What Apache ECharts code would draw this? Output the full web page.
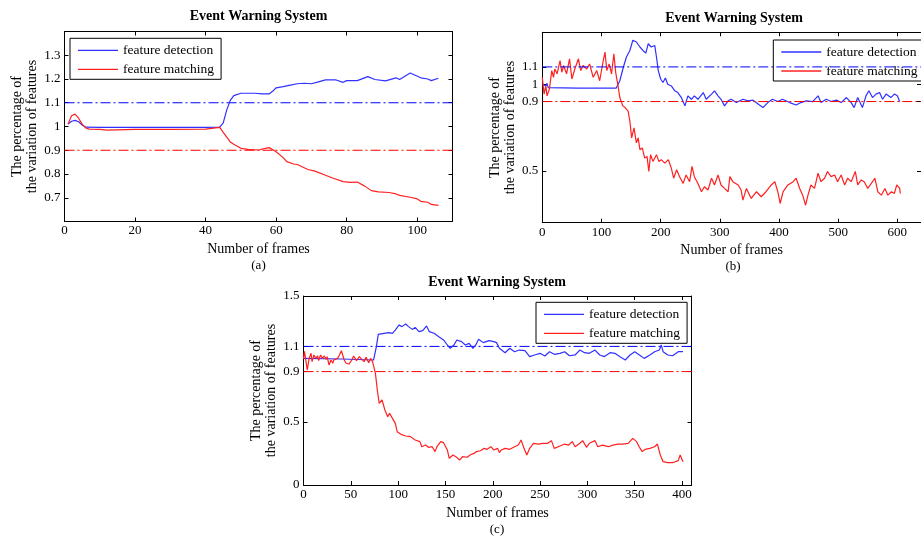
<!DOCTYPE html>
<html>
<head>
<meta charset="utf-8">
<script src="https://cdn.jsdelivr.net/npm/echarts@6/dist/echarts.min.js"></script>
<style>
  html, body { margin: 0; padding: 0; background: #fff; }
  #chart { width: 921px; height: 537px; }
</style>
</head>
<body>
<div id="chart"></div>
<script>
// ---- data ----
var seriesNames = ['feature detection', 'feature matching'];

// (a)
var aDetectFrames = [1, 2, 3, 4, 5, 6, 10, 20, 30, 40, 44, 45, 46, 47, 48, 50, 52, 54, 56, 58, 59, 60, 62, 64, 66, 68, 70, 72, 74, 77, 79, 80, 83, 86, 88, 91, 94, 95, 98, 101, 103, 104, 106];
var aDetect = [1.01, 1.022, 1.026, 1.02, 1.006, 0.997, 0.996, 0.996, 0.996, 0.996, 0.997, 1.015, 1.07, 1.11, 1.13, 1.14, 1.14, 1.14, 1.137, 1.137, 1.148, 1.163, 1.168, 1.174, 1.18, 1.182, 1.18, 1.188, 1.196, 1.196, 1.186, 1.193, 1.193, 1.21, 1.198, 1.192, 1.205, 1.198, 1.225, 1.205, 1.2, 1.193, 1.203];
var aMatchFrames = [1, 2, 3, 4, 5, 6, 7, 10, 12, 20, 30, 40, 44, 45, 46, 47, 48, 50, 52, 55, 57, 58, 60, 62, 63, 65, 66, 69, 71, 74, 76, 79, 81, 83, 85, 87, 89, 92, 94, 95, 98, 100, 101, 103, 104, 106];
var aMatch = [1.01, 1.045, 1.052, 1.035, 1.01, 0.994, 0.989, 0.988, 0.985, 0.988, 0.988, 0.989, 0.996, 0.975, 0.955, 0.935, 0.925, 0.908, 0.904, 0.901, 0.908, 0.911, 0.894, 0.869, 0.852, 0.842, 0.84, 0.819, 0.812, 0.795, 0.783, 0.768, 0.765, 0.766, 0.75, 0.73, 0.725, 0.722, 0.716, 0.71, 0.702, 0.695, 0.685, 0.681, 0.672, 0.668];
var aXTicks = [0, 20, 40, 60, 80, 100];
var aYTicks = [0.6, 0.7, 0.8, 0.9, 1, 1.1, 1.2, 1.3, 1.4];
var aYLabels = [0.7, 0.8, 0.9, 1, 1.1, 1.2, 1.3];

// (b)
var bDetectFrames = [0, 3, 6, 8, 10, 12, 60, 125, 131, 137, 142, 148, 153, 159, 165, 170, 175, 179, 184, 190, 193, 196, 200, 204, 208, 212, 218, 224, 229, 235, 241, 246, 252, 257, 263, 272, 277, 286, 291, 297, 302, 308, 314, 319, 328, 339, 348, 356, 367, 373, 381, 389, 398, 406, 418, 429, 437, 446, 457, 466, 471, 480, 488, 497, 505, 514, 522, 527, 533, 541, 547, 552, 558, 564, 570, 575, 581, 589, 595, 600, 604];
var bDetect = [1.0, 1.01, 0.99, 1.005, 0.98, 0.978, 0.978, 0.978, 1.02, 1.098, 1.156, 1.195, 1.254, 1.244, 1.215, 1.195, 1.18, 1.234, 1.215, 1.224, 1.156, 1.079, 1.03, 1.01, 1.036, 1.0, 0.99, 0.962, 0.952, 0.923, 0.875, 0.933, 0.913, 0.933, 0.913, 0.952, 0.913, 0.943, 0.962, 0.933, 0.913, 0.875, 0.904, 0.913, 0.894, 0.913, 0.904, 0.908, 0.88, 0.865, 0.894, 0.913, 0.9, 0.913, 0.894, 0.88, 0.894, 0.904, 0.9, 0.933, 0.894, 0.913, 0.9, 0.908, 0.894, 0.923, 0.894, 0.865, 0.923, 0.865, 0.933, 0.962, 0.923, 0.943, 0.952, 0.913, 0.943, 0.923, 0.943, 0.933, 0.9];
var bMatchFrames = [0, 3, 6, 8, 12, 16, 19, 21, 25, 30, 33, 36, 41, 46, 50, 55, 61, 65, 69, 75, 80, 86, 92, 97, 103, 106, 109, 113, 117, 121, 124, 128, 131, 136, 140, 145, 148, 151, 155, 159, 162, 165, 169, 173, 177, 180, 183, 187, 193, 197, 201, 207, 213, 218, 222, 227, 232, 238, 243, 249, 253, 257, 263, 269, 274, 280, 286, 291, 297, 302, 308, 314, 317, 322, 331, 336, 339, 345, 353, 362, 370, 378, 387, 393, 398, 402, 407, 415, 424, 429, 435, 440, 445, 449, 454, 460, 466, 471, 477, 482, 488, 494, 499, 505, 511, 516, 522, 529, 533, 539, 544, 550, 556, 562, 567, 573, 579, 584, 590, 595, 599, 604, 605];
var bMatch = [1.04, 0.943, 0.991, 0.933, 0.972, 1.079, 1.04, 1.088, 1.06, 1.137, 1.069, 1.108, 1.06, 1.147, 1.03, 1.088, 1.147, 1.079, 1.108, 1.088, 1.117, 1.04, 1.079, 1.02, 1.137, 1.186, 1.079, 1.117, 1.06, 1.176, 1.069, 0.991, 0.923, 0.875, 0.865, 0.845, 0.787, 0.69, 0.748, 0.661, 0.69, 0.622, 0.632, 0.573, 0.583, 0.496, 0.593, 0.554, 0.593, 0.554, 0.564, 0.544, 0.564, 0.515, 0.457, 0.506, 0.466, 0.427, 0.476, 0.437, 0.525, 0.466, 0.427, 0.379, 0.408, 0.389, 0.457, 0.418, 0.476, 0.418, 0.398, 0.379, 0.466, 0.437, 0.418, 0.389, 0.33, 0.398, 0.34, 0.379, 0.35, 0.379, 0.418, 0.437, 0.379, 0.311, 0.379, 0.418, 0.437, 0.457, 0.398, 0.359, 0.301, 0.359, 0.418, 0.398, 0.486, 0.437, 0.457, 0.496, 0.466, 0.476, 0.437, 0.476, 0.418, 0.457, 0.437, 0.496, 0.418, 0.447, 0.437, 0.398, 0.427, 0.457, 0.379, 0.359, 0.398, 0.359, 0.379, 0.369, 0.418, 0.398, 0.369];
var bXTicks = [0, 100, 200, 300, 400, 500, 600];
var bYTicks = [0.5, 0.9, 1, 1.1];

// (c)
var cDetectFrames = [0, 40, 74, 77, 79, 85, 90, 94, 97, 101, 104, 108, 111, 115, 118, 122, 126, 130, 133, 138, 143, 148, 152, 155, 159, 162, 167, 171, 175, 179, 182, 185, 190, 196, 201, 204, 207, 209, 213, 218, 223, 228, 234, 239, 244, 250, 255, 260, 265, 271, 276, 281, 287, 292, 297, 302, 308, 313, 318, 324, 329, 334, 340, 345, 350, 355, 360, 366, 371, 376, 378, 380, 385, 390, 396, 401];
var cDetect = [1.005, 1.0, 0.992, 1.098, 1.196, 1.204, 1.209, 1.204, 1.23, 1.27, 1.257, 1.278, 1.257, 1.235, 1.251, 1.217, 1.225, 1.262, 1.217, 1.204, 1.177, 1.151, 1.111, 1.085, 1.111, 1.151, 1.138, 1.111, 1.124, 1.085, 1.111, 1.156, 1.13, 1.146, 1.138, 1.13, 1.085, 1.071, 1.05, 1.085, 1.058, 1.071, 1.066, 1.019, 1.032, 1.045, 1.024, 1.058, 1.037, 1.045, 1.058, 1.026, 1.032, 1.071, 1.05, 1.045, 1.071, 1.032, 1.019, 1.05, 1.045, 1.019, 0.992, 1.032, 1.058, 1.032, 1.005, 1.032, 1.058, 1.071, 1.111, 1.058, 1.032, 1.026, 1.058, 1.058];
var cMatchFrames = [0, 1, 4, 6, 8, 9, 11, 13, 15, 16, 18, 20, 22, 24, 25, 27, 29, 31, 32, 34, 36, 38, 40, 43, 45, 48, 51, 53, 56, 59, 61, 64, 66, 69, 71, 73, 74, 76, 78, 80, 82, 83, 86, 89, 91, 94, 97, 99, 103, 108, 113, 118, 123, 125, 129, 132, 136, 139, 141, 145, 148, 152, 154, 158, 161, 165, 168, 173, 176, 180, 183, 187, 191, 194, 198, 201, 205, 207, 209, 213, 218, 223, 227, 230, 233, 236, 239, 243, 248, 253, 258, 262, 265, 271, 276, 280, 284, 287, 292, 295, 299, 302, 308, 311, 316, 322, 327, 332, 337, 343, 348, 352, 355, 358, 361, 366, 371, 374, 377, 380, 385, 390, 396, 398, 401];
var cMatch = [1.0, 1.06, 0.913, 1.005, 1.045, 0.979, 1.032, 1.005, 1.024, 0.987, 1.032, 1.005, 1.024, 0.997, 1.019, 0.952, 0.992, 0.966, 0.992, 0.979, 1.005, 1.032, 1.066, 0.992, 0.966, 0.96, 0.992, 1.024, 0.987, 1.019, 1.005, 0.979, 1.013, 0.971, 1.005, 0.979, 0.992, 0.886, 0.754, 0.648, 0.635, 0.675, 0.595, 0.542, 0.569, 0.529, 0.489, 0.423, 0.402, 0.389, 0.384, 0.357, 0.344, 0.304, 0.317, 0.299, 0.304, 0.265, 0.304, 0.344, 0.336, 0.278, 0.212, 0.238, 0.225, 0.198, 0.225, 0.22, 0.238, 0.251, 0.265, 0.272, 0.291, 0.283, 0.304, 0.278, 0.291, 0.257, 0.278, 0.291, 0.283, 0.304, 0.317, 0.357, 0.291, 0.238, 0.291, 0.331, 0.325, 0.331, 0.331, 0.352, 0.291, 0.31, 0.325, 0.317, 0.344, 0.304, 0.331, 0.352, 0.299, 0.331, 0.352, 0.304, 0.317, 0.304, 0.317, 0.325, 0.325, 0.331, 0.37, 0.344, 0.299, 0.265, 0.283, 0.291, 0.304, 0.325, 0.238, 0.185, 0.177, 0.177, 0.193, 0.238, 0.185];
var cXTicks = [0, 50, 100, 150, 200, 250, 300, 350, 400];
var cYTicks = [0, 0.5, 0.9, 1.1, 1.5];

// thresholds (dash-dot lines)
var upperLimit = 1.1;
var lowerLimit = 0.9;

var FONT = '"Liberation Serif", "DejaVu Serif", serif';

function pairs(xs, ys) {
  return xs.map(function (x, i) { return [x, ys[i]]; });
}

var chart = echarts.init(document.getElementById('chart'));

// panel layout: grid box, axis ranges, tick values
var panels = [
  { left: 64.5, top: 31.5, width: 388, height: 190, xmax: 110, ymin: 0.6, ymax: 1.4,
    xTicks: aXTicks, yTicks: aYTicks, yLabels: aYLabels,
    detect: pairs(aDetectFrames, aDetect), match: pairs(aMatchFrames, aMatch),
    title: [258.5, 16], tag: '(a)', tagPos: [258.5, 266], legend: [70, 38.3], thZ: 2 },
  { left: 542.3, top: 32.3, width: 380, height: 190.4, xmax: 640, ymin: 0.2, ymax: 1.3,
    xTicks: bXTicks, yTicks: bYTicks, yLabels: bYTicks,
    detect: pairs(bDetectFrames, bDetect), match: pairs(bMatchFrames, bMatch),
    title: [734, 18], tag: '(b)', tagPos: [733, 267], legend: [773.3, 40], thZ: 10 },
  { left: 303.5, top: 296, width: 388, height: 189, xmax: 410, ymin: 0, ymax: 1.5,
    xTicks: cXTicks, yTicks: cYTicks, yLabels: cYTicks,
    detect: pairs(cDetectFrames, cDetect), match: pairs(cMatchFrames, cMatch),
    title: [497, 282], tag: '(c)', tagPos: [497, 530], legend: [536, 302.3], thZ: 2 }
];

var grids = [], xAxes = [], yAxes = [], series = [], titles = [], legends = [];

panels.forEach(function (p, g) {
  grids.push({ left: p.left, top: p.top, width: p.width, height: p.height });

  var lineStyle = { color: '#000', width: 1 };
  var axisLine = { show: true, onZero: false, lineStyle: lineStyle };
  var tick = function (vals) {
    return { show: true, inside: true, length: 4, lineStyle: lineStyle, customValues: vals };
  };
  var lbl = { color: '#000', fontFamily: FONT, fontSize: 13 };

  xAxes.push({
    type: 'value', gridIndex: g, position: 'bottom', min: 0, max: p.xmax,
    axisLine: axisLine,
    axisTick: tick(p.xTicks),
    axisLabel: Object.assign({ customValues: p.xTicks, margin: 3 }, lbl),
    splitLine: { show: false },
    name: 'Number of frames', nameLocation: 'middle', nameGap: 21,
    nameTextStyle: { color: '#000', fontFamily: FONT, fontSize: 14 }
  });
  xAxes.push({
    type: 'value', gridIndex: g, position: 'top', min: 0, max: p.xmax,
    axisLine: axisLine,
    axisTick: tick(p.xTicks),
    axisLabel: { show: false },
    splitLine: { show: false }
  });
  yAxes.push({
    type: 'value', gridIndex: g, position: 'left', min: p.ymin, max: p.ymax,
    axisLine: axisLine,
    axisTick: tick(p.yTicks),
    axisLabel: Object.assign({ customValues: p.yLabels, margin: 4 }, lbl),
    splitLine: { show: false },
    name: 'The percentage of\nthe variation of features', nameLocation: 'middle', nameGap: 24,
    nameTextStyle: { color: '#000', fontFamily: FONT, fontSize: 14, lineHeight: 15.5 }
  });
  yAxes.push({
    type: 'value', gridIndex: g, position: 'right', min: p.ymin, max: p.ymax,
    axisLine: axisLine,
    axisTick: tick(p.yTicks),
    axisLabel: { show: false },
    splitLine: { show: false }
  });

  var xi = g * 2, yi = g * 2;
  series.push({
    name: seriesNames[0], type: 'line', xAxisIndex: xi, yAxisIndex: yi,
    data: p.detect, symbol: 'none', lineStyle: { color: '#3030ff', width: 1.2 },
    itemStyle: { color: '#3030ff' }, z: 3
  });
  series.push({
    name: seriesNames[1], type: 'line', xAxisIndex: xi, yAxisIndex: yi,
    data: p.match, symbol: 'none', lineStyle: { color: '#ff2020', width: 1.2 },
    itemStyle: { color: '#ff2020' }, z: 3
  });
  series.push({
    name: 'upper', type: 'line', xAxisIndex: xi, yAxisIndex: yi,
    data: [[0, upperLimit], [p.xmax, upperLimit]], symbol: 'none', silent: true,
    lineStyle: { color: '#0000ff', width: 1, type: [10, 3, 2, 3] }, z: p.thZ
  });
  series.push({
    name: 'lower', type: 'line', xAxisIndex: xi, yAxisIndex: yi,
    data: [[0, lowerLimit], [p.xmax, lowerLimit]], symbol: 'none', silent: true,
    lineStyle: { color: '#ff0000', width: 1, type: [10, 3, 2, 3] }, z: p.thZ
  });

  titles.push({
    text: 'Event Warning System', left: p.title[0], top: p.title[1], padding: 0,
    textAlign: 'center', textVerticalAlign: 'middle',
    textStyle: { color: '#000', fontFamily: FONT, fontSize: 14, fontWeight: 'bold' }
  });
  titles.push({
    text: p.tag, left: p.tagPos[0], top: p.tagPos[1], padding: 0,
    textAlign: 'center', textVerticalAlign: 'middle',
    textStyle: { color: '#000', fontFamily: FONT, fontSize: 13, fontWeight: 'normal' }
  });

  legends.push({
    data: seriesNames, orient: 'vertical', left: p.legend[0], top: p.legend[1],
    icon: 'rect', itemWidth: 40, itemHeight: 1.3, itemGap: 5, padding: [5, 7, 3, 8],
    backgroundColor: '#fff', borderColor: '#000', borderWidth: 1, borderRadius: 0,
    z: 4, selectedMode: false,
    textStyle: { color: '#000', fontFamily: FONT, fontSize: 13.5 }
  });
});

chart.setOption({
  animation: false,
  backgroundColor: '#fff',
  title: titles,
  legend: legends,
  grid: grids,
  xAxis: xAxes,
  yAxis: yAxes,
  series: series
});
</script>
</body>
</html>
